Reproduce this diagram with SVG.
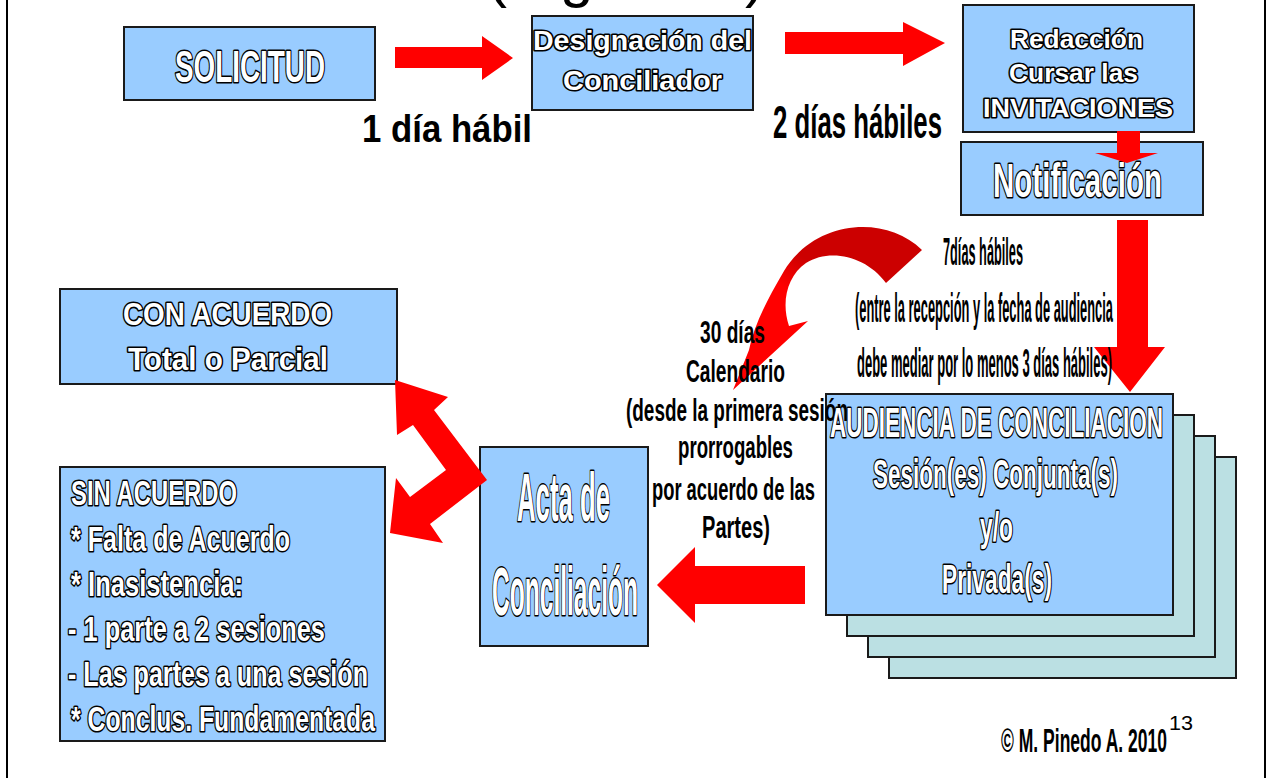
<svg xmlns="http://www.w3.org/2000/svg" width="1273" height="778" viewBox="0 0 1273 778">
<style>
.box{fill:#99CCFF;stroke:#1a1a1a;stroke-width:2}
.back{fill:#BBE0E3;stroke:#1a1a1a;stroke-width:2}
.ot{font-family:"Liberation Sans",Arial,sans-serif;font-weight:bold;fill:#fff;stroke:#000;stroke-width:3.2;paint-order:stroke;stroke-linejoin:round}
.lbl{font-family:"Liberation Sans",Arial,sans-serif;font-weight:bold;fill:#000}
.arr{fill:#FF0000}
</style>
<defs>
<linearGradient id="curveG" gradientUnits="userSpaceOnUse" x1="810" y1="262" x2="790" y2="292">
<stop offset="0" stop-color="#CC0000"/>
<stop offset="1" stop-color="#FF0000"/>
</linearGradient>
</defs>
<rect width="1273" height="778" fill="#fff"/>
<line x1="7" y1="0" x2="7" y2="778" stroke="#000" stroke-width="2"/>
<line x1="1265" y1="0" x2="1265" y2="778" stroke="#000" stroke-width="2"/>
<g id="title-fragment" font-family="Liberation Sans, Arial, sans-serif" font-size="60" fill="#000">
<text x="487" y="-4">(</text>
<text x="560" y="-4">g</text>
<text x="745" y="-4">)</text>
</g>

<g id="connectors">
<polygon class="arr" points="395,47 482,47 482,36 513,58 482,80 482,68 395,68"/>
<polygon class="arr" points="785,32 903,32 903,22 945,43 903,66 903,54 785,54"/>
<polygon class="arr" points="1117,220 1148,220 1148,347 1165,347 1130,392 1094,347 1117,347"/>
<polygon class="arr" points="805,566 695,566 695,547 657,585 695,623 695,604 805,604"/>
<path fill="url(#curveG)" d="M922,250 C885,214 815,220 784,271 C767,300 754,325 749,350 L733,390 L808,321 L789,326 C781,302 787,276 806,263 C830,248 866,256 886,283 Z"/>
</g>

<g id="node-solicitud">
<rect class="box" x="124" y="27" width="251" height="73"/>
<text class="ot" x="175" y="82" font-size="44" textLength="150" lengthAdjust="spacingAndGlyphs">SOLICITUD</text>
</g>
<g id="node-designacion">
<rect class="box" x="532" y="16" width="221" height="94"/>
<text class="ot" x="533" y="50" font-size="28" textLength="219" lengthAdjust="spacingAndGlyphs">Designación del</text>
<text class="ot" x="563" y="90" font-size="28" textLength="159" lengthAdjust="spacingAndGlyphs">Conciliador</text>
</g>
<g id="node-redaccion">
<rect class="box" x="963" y="5" width="231" height="127"/>
<text class="ot" x="1010" y="48" font-size="26" textLength="133" lengthAdjust="spacingAndGlyphs">Redacción</text>
<text class="ot" x="1009" y="82" font-size="26" textLength="129" lengthAdjust="spacingAndGlyphs">Cursar las</text>
<text class="ot" x="983" y="117" font-size="26" textLength="190" lengthAdjust="spacingAndGlyphs">INVITACIONES</text>
</g>
<g id="node-notificacion">
<rect class="box" x="961" y="142" width="242" height="73"/>
<text class="ot" x="993" y="197" font-size="49" textLength="169" lengthAdjust="spacingAndGlyphs">Notificación</text>
</g>
<g id="connector-small">
<polygon class="arr" points="1117,131 1140,131 1140,153 1158,153 1127,163 1095,153 1117,153"/>
</g>
<g id="node-con-acuerdo">
<rect class="box" x="60" y="289" width="337" height="95"/>
<text class="ot" x="123" y="325" font-size="32" textLength="209" lengthAdjust="spacingAndGlyphs">CON ACUERDO</text>
<text class="ot" x="128" y="370" font-size="32" textLength="200" lengthAdjust="spacingAndGlyphs">Total o Parcial</text>
</g>
<g id="node-sin-acuerdo">
<rect class="box" x="60" y="467" width="325" height="274"/>
<g font-size="35">
<text class="ot" x="71" y="505" textLength="166" lengthAdjust="spacingAndGlyphs">SIN ACUERDO</text>
<text class="ot" x="71" y="551" textLength="219" lengthAdjust="spacingAndGlyphs">* Falta de Acuerdo</text>
<text class="ot" x="71" y="596" textLength="172" lengthAdjust="spacingAndGlyphs">* Inasistencia:</text>
<text class="ot" x="68" y="641" textLength="257" lengthAdjust="spacingAndGlyphs">- 1 parte a 2 sesiones</text>
<text class="ot" x="68" y="686" textLength="300" lengthAdjust="spacingAndGlyphs">- Las partes a una sesión</text>
<text class="ot" x="71" y="731" textLength="304" lengthAdjust="spacingAndGlyphs">* Conclus. Fundamentada</text>
</g>
</g>
<g id="node-acta">
<rect class="box" x="480" y="447" width="168" height="199"/>
<text class="ot" x="517" y="521" font-size="68" textLength="93" lengthAdjust="spacingAndGlyphs">Acta de</text>
<text class="ot" x="492" y="615" font-size="68" textLength="146" lengthAdjust="spacingAndGlyphs">Conciliación</text>
</g>
<g id="connector-split">
<polygon class="arr" points="395,380 448,397 434,410 487,480 430,524 443,543 390,533 396,478 410,497 446,470 413,425 397,435"/>
</g>
<g id="node-audiencia">
<rect class="back" x="889" y="457" width="347" height="221"/>
<rect class="back" x="868" y="436" width="347" height="221"/>
<rect class="back" x="847" y="415" width="347" height="221"/>
<rect class="box" x="826" y="394" width="347" height="221"/>
</g>
<g id="labels">
<text class="lbl" x="362" y="142" font-size="38" textLength="170" lengthAdjust="spacingAndGlyphs">1 día hábil</text>
<text class="lbl" x="773" y="138" font-size="47" textLength="169" lengthAdjust="spacingAndGlyphs">2 días hábiles</text>
<text class="lbl" x="943" y="265" font-size="39" textLength="80" lengthAdjust="spacingAndGlyphs">7días hábiles</text>
<text class="lbl" x="855" y="322" font-size="40" textLength="258" lengthAdjust="spacingAndGlyphs">(entre la recepción y la fecha de audiencia</text>
<text class="lbl" x="857" y="377" font-size="40" textLength="255" lengthAdjust="spacingAndGlyphs">debe mediar por lo menos 3 días hábiles)</text>
<text class="lbl" x="700" y="343" font-size="31" textLength="65" lengthAdjust="spacingAndGlyphs">30 días</text>
<text class="lbl" x="686" y="382" font-size="31" textLength="99" lengthAdjust="spacingAndGlyphs">Calendario</text>
<text class="lbl" x="626" y="421" font-size="31" textLength="222" lengthAdjust="spacingAndGlyphs">(desde la primera sesión</text>
<text class="lbl" x="678" y="458" font-size="31" textLength="115" lengthAdjust="spacingAndGlyphs">prorrogables</text>
<text class="lbl" x="652" y="500" font-size="31" textLength="163" lengthAdjust="spacingAndGlyphs">por acuerdo de las</text>
<text class="lbl" x="702" y="538" font-size="31" textLength="68" lengthAdjust="spacingAndGlyphs">Partes)</text>
<text class="lbl" x="1001" y="752" font-size="33" textLength="166" lengthAdjust="spacingAndGlyphs">© M. Pinedo A. 2010</text>
<text x="1169" y="730" font-family="Liberation Sans, Arial, sans-serif" font-size="20" fill="#000" textLength="24" lengthAdjust="spacingAndGlyphs">13</text>
</g>
<g id="node-audiencia-text">
<text class="ot" x="830" y="437" font-size="43" textLength="333" lengthAdjust="spacingAndGlyphs">AUDIENCIA DE CONCILIACION</text>
<text class="ot" x="873" y="488" font-size="40" textLength="245" lengthAdjust="spacingAndGlyphs">Sesión(es) Conjunta(s)</text>
<text class="ot" x="980" y="541" font-size="40" textLength="33" lengthAdjust="spacingAndGlyphs">y/o</text>
<text class="ot" x="942" y="593" font-size="40" textLength="110" lengthAdjust="spacingAndGlyphs">Privada(s)</text>
</g>
</svg>
